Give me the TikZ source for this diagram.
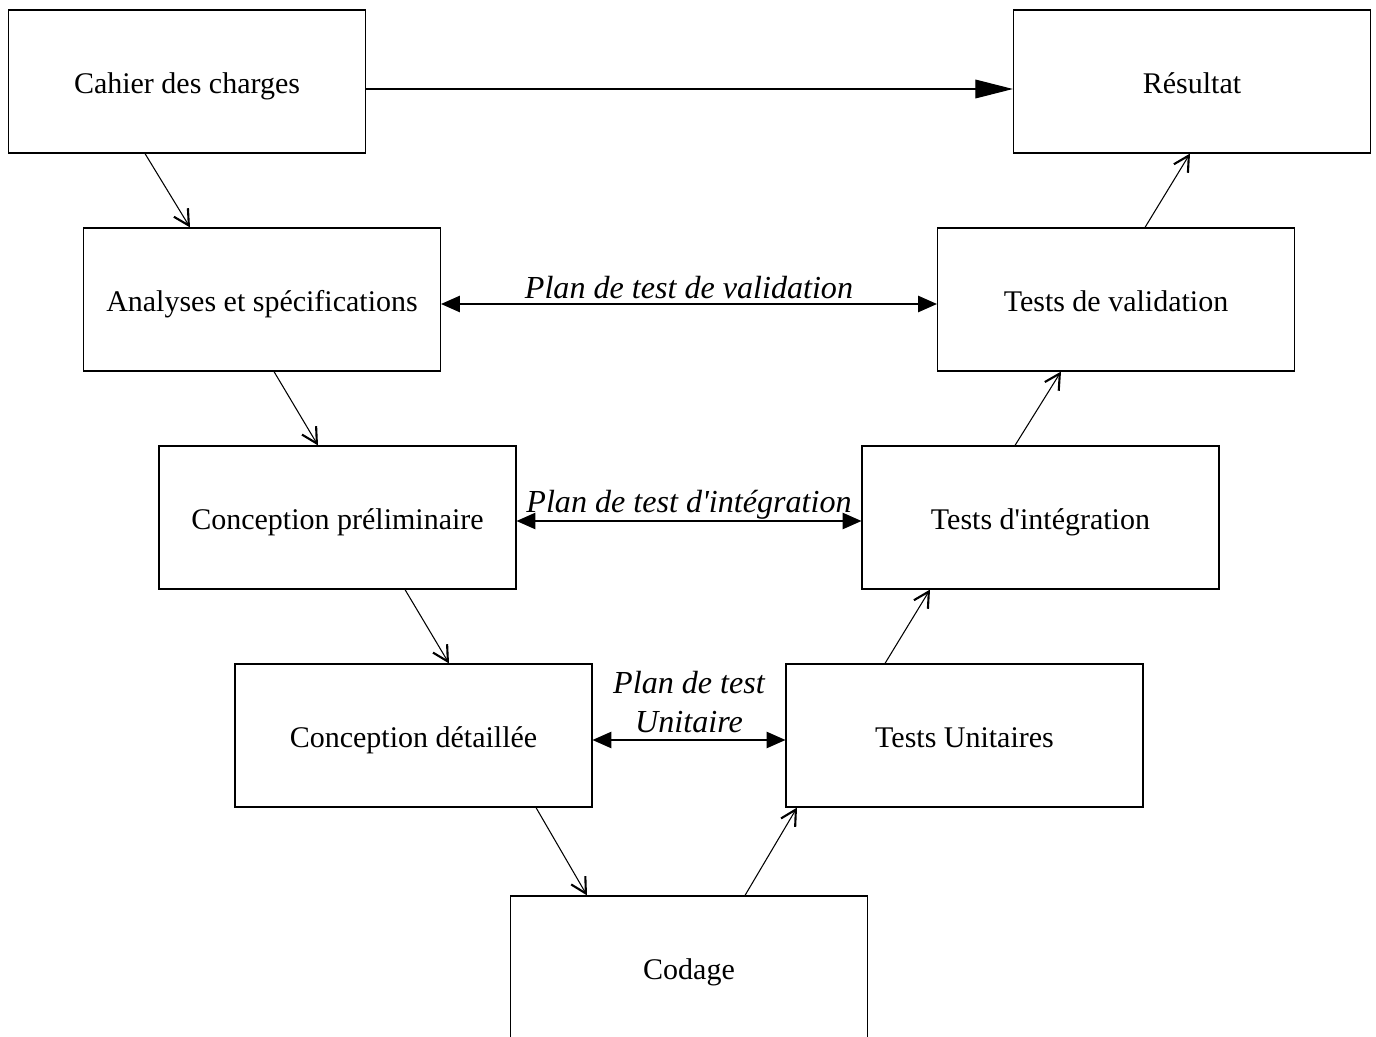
\documentclass[tikz,border=0pt]{standalone}
\usepackage{fontspec}
\setmainfont{Liberation Serif}
\usetikzlibrary{arrows.meta,calc}

\begin{document}
\begin{tikzpicture}[x=0.015cm,y=-0.015cm,
    phase/.style={draw,line width=.5pt,minimum width=5.355cm,minimum height=2.145cm,
      inner sep=0pt,text height=10pt,text depth=0pt,font=\fontsize{12.8}{15}\selectfont},
    flow/.style={line width=.45pt,-{Straight Barb[length=6.5pt,width=7pt,line width=.9pt]}},
    plan/.style={line width=.45pt,{Triangle[length=8pt,width=7pt]}-{Triangle[length=8pt,width=7pt]}},
    planlbl/.style={font=\fontsize{13.7}{16.5}\selectfont\itshape,inner sep=1pt}]
  \useasboundingbox (0,0) rectangle (1376,1037);
  % left branch
  \node[phase] (cahier) at (187,81.5) {Cahier des charges};
  \node[phase] (analyses) at (262,299.5) {Analyses et spécifications};
  \node[phase] (prelim) at (337.5,517.5) {Conception préliminaire};
  \node[phase] (detail) at (413.5,735.5) {Conception détaillée};
  \node[phase] (codage) at (689,967.5) {Codage};
  % right branch
  \node[phase] (unit) at (964.5,735.5) {Tests Unitaires};
  \node[phase] (integ) at (1040.5,517.5) {Tests d\textquotesingle intégration};
  \node[phase] (valid) at (1116,299.5) {Tests de validation};
  \node[phase] (result) at (1192,81.5) {Résultat};

  \draw[line width=.45pt,-{Triangle[length=16pt,width=8pt]}]
    ($(cahier.east)+(0,7.5)$) -- ($(result.west)+(0,7.5)$);

  \draw[flow] ($(cahier.south)+(-42,0)$) -- ($(analyses.north)+(-72,0)$);
  \draw[flow] ($(analyses.south)+(12,0)$) -- ($(prelim.north)+(-19.5,0)$);
  \draw[flow] ($(prelim.south)+(67.5,0)$) -- ($(detail.north)+(35.5,0)$);
  \draw[flow] ($(detail.south)+(122.5,0)$) -- ($(codage.north)+(-102,0)$);
  \draw[flow] ($(codage.north)+(56,0)$) -- ($(unit.south)+(-167.5,0)$);
  \draw[flow] ($(unit.north)+(-79.5,0)$) -- ($(integ.south)+(-110.5,0)$);
  \draw[flow] ($(integ.north)+(-25.5,0)$) -- ($(valid.south)+(-55,0)$);
  \draw[flow] ($(valid.north)+(29,0)$) -- ($(result.south)+(-2,0)$);

  % test plans
  \draw[plan] ($(analyses.east)+(0,4.5)$) -- ($(valid.west)+(0,4.5)$)
    node[midway,above=1pt,planlbl] (pv) {Plan de test de validation};
  \draw[plan] ($(prelim.east)+(0,3.5)$) -- ($(integ.west)+(0,3.5)$)
    node[midway,above=-.5pt,planlbl] (pi) {Plan de test d\textquotesingle intégration};
  \draw[plan] ($(detail.east)+(0,4.5)$) -- ($(unit.west)+(0,4.5)$)
    node[midway,above=2pt,planlbl,align=center] (pu) {Plan de test\\Unitaire};
\end{tikzpicture}
\end{document}
